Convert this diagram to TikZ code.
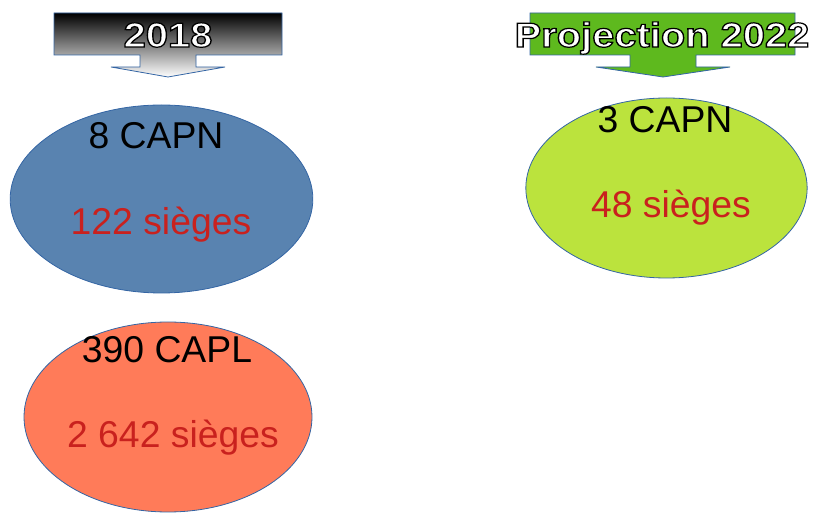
\documentclass[tikz,border=0pt]{standalone}
\usepackage{fontspec}
\setmainfont{Liberation Sans}
\usepackage{graphicx}
\usetikzlibrary{shapes.geometric}

\definecolor{outline}{HTML}{3465A4}
\definecolor{capnblue}{HTML}{5983B0}
\definecolor{capl}{HTML}{FF7B59}
\definecolor{capnlime}{HTML}{BBE33D}
\definecolor{headgreen}{HTML}{5EB91E}
\definecolor{seatred}{HTML}{C9211E}

% white letters with a black contour
\newcommand{\headtxt}[1]{\special{pdf:literal direct 2 Tr 0.9 w 0 0 0 RG}%
  \scalebox{1.15}[1]{#1}\special{pdf:literal direct 0 Tr}}

\begin{document}
\begin{tikzpicture}[x=0.75pt, y=-0.75pt, line width=0.6pt,
  blob/.style={ellipse, draw=outline, inner sep=0pt},
  big/.style={font=\fontsize{28}{33}\selectfont, anchor=base, inner sep=0pt},
  head/.style={font=\fontsize{26}{31}\selectfont\bfseries, anchor=base, inner sep=0pt, white}]

\useasboundingbox (0,0) rectangle (815,513);

% 2018 header arrow
\shadedraw[top color=black, bottom color=white, draw=outline]
  (54,13) -- (282,13) -- (282,55) -- (196,55) -- (196,67) -- (225,67)
  -- (168,77) -- (111,67) -- (140,67) -- (140,55) -- (54,55) -- cycle;
\node[head] (y2018) at (168,47) {\headtxt{2018}};

% projection header arrow
\draw[fill=headgreen, draw=outline]
  (530,13) -- (795,13) -- (795,55) -- (696,55) -- (696,67) -- (730,67)
  -- (663,77) -- (596,67) -- (630,67) -- (630,55) -- (530,55) -- cycle;
\node[head] (y2022) at (662,47) {\headtxt{Projection 2022}};

% ellipses
\node[blob, fill=capnblue, minimum width=227pt, minimum height=141pt] (capn18) at (161.5,199) {};
\node[blob, fill=capl, minimum width=216pt, minimum height=142.5pt] (capl18) at (168,417) {};
\node[blob, fill=capnlime, minimum width=211pt, minimum height=135pt] (capn22) at (666.5,188) {};

\node[big] (capnnum18) at (156,149) {8 CAPN};
\node[big, seatred] (capnseat18) at (161,235) {122 sièges};

\node[big] (caplnum18) at (167,363) {390 CAPL};
\node[big, seatred] (caplseat18) at (173,448) {2 642 sièges};

\node[big] (capnnum22) at (665,133) {3 CAPN};
\node[big, seatred] (capnseat22) at (671,218) {48 sièges};

\end{tikzpicture}
\end{document}
